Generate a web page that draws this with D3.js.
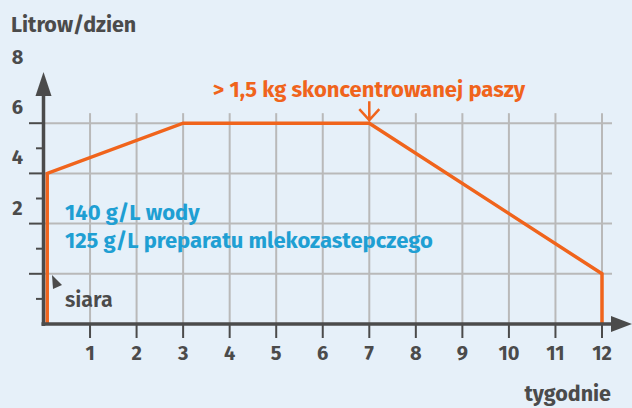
<!DOCTYPE html>
<html><head><meta charset="utf-8">
<script src="https://cdn.jsdelivr.net/npm/d3@7"></script>
<style>
html,body{margin:0;padding:0;background:#e6f0f9;}
svg{display:block;font-family:"Fira Sans","Noto Sans","Open Sans",sans-serif;}
</style></head>
<body><svg id="c" width="632" height="408"></svg>
<script>
// data
const weeks = [0.08, 0.08, 3, 7, 12, 12];
const litres = [-2, 4, 6, 6, 0, -2];
const xTicks = [1,2,3,4,5,6,7,8,9,10,11,12];
const yMajor = [6,4,2,0];
const yMinor = [5,3,1,-1];
const yLabels = ["8","6","4","2"];
const yLabelVals = [8,6,4,2];
const yTitle = "Litrow/dzien";
const xTitle = "tygodnie";
const annotation = "> 1,5 kg skoncentrowanej paszy";
const annotationWeek = 7;
const blueLines = ["140 g/L wody", "125 g/L preparatu mlekozastepczego"];
const siara = "siara";

const svg = d3.select("#c");
const x = d3.scaleLinear().domain([0,12]).range([43.5,602]);
const y = d3.scaleLinear().domain([-2,8]).range([324,73]);
const gridCol="#b9b9b9", axisCol="#4b4b4b", orange="#f0641c", blue="#1f9fd3";

// grid
svg.append("g").selectAll("line").data(xTicks).join("line")
  .attr("x1",d=>x(d)).attr("x2",d=>x(d)).attr("y1",y(6.4)).attr("y2",y(-2))
  .attr("stroke",gridCol).attr("stroke-width",2);
svg.append("g").selectAll("line").data(yMajor).join("line")
  .attr("x1",x(0)).attr("x2",612).attr("y1",d=>y(d)).attr("y2",d=>y(d))
  .attr("stroke",gridCol).attr("stroke-width",2);

// ticks
svg.append("g").selectAll("line").data(yMajor).join("line")
  .attr("x1",29).attr("x2",x(0)).attr("y1",d=>y(d)).attr("y2",d=>y(d))
  .attr("stroke",axisCol).attr("stroke-width",2);
svg.append("g").selectAll("line").data(yMinor).join("line")
  .attr("x1",36).attr("x2",x(0)).attr("y1",d=>y(d)).attr("y2",d=>y(d))
  .attr("stroke",axisCol).attr("stroke-width",2);
svg.append("g").selectAll("line").data(xTicks).join("line")
  .attr("x1",d=>x(d)).attr("x2",d=>x(d)).attr("y1",y(-2)).attr("y2",y(-2)+14)
  .attr("stroke",axisCol).attr("stroke-width",2);

// orange line
svg.append("path").datum(weeks.map((w,i)=>[w,litres[i]]))
  .attr("d",d3.line().x(d=>x(d[0])).y(d=>y(d[1])))
  .attr("fill","none").attr("stroke",orange).attr("stroke-width",3.5).attr("stroke-linejoin","miter");

// axes
svg.append("line").attr("x1",x(0)).attr("x2",x(0)).attr("y1",90).attr("y2",y(-2)+2)
  .attr("stroke",axisCol).attr("stroke-width",3.5);
svg.append("line").attr("x1",x(0)-2).attr("x2",615).attr("y1",y(-2)).attr("y2",y(-2))
  .attr("stroke",axisCol).attr("stroke-width",3.5);
svg.append("path").attr("d",`M${x(0)},72 L${x(0)+8},96 L${x(0)-8},96 Z`).attr("fill",axisCol);
svg.append("path").attr("d",`M632,${y(-2)} L611,${y(-2)-8} L611,${y(-2)+8} Z`).attr("fill",axisCol);

// tick labels
svg.append("g").selectAll("text").data(xTicks).join("text")
  .attr("x",d=>x(d)).attr("y",360).attr("text-anchor","middle")
  .attr("font-size",20).attr("font-weight",700).attr("fill",axisCol).text(d=>d);
svg.append("g").selectAll("text").data(yLabelVals).join("text")
  .attr("x",17.5).attr("y",d=>y(d)-9).attr("text-anchor","middle")
  .attr("font-size",20).attr("font-weight",700).attr("fill",axisCol).text((d,i)=>yLabels[i]);

// titles
svg.append("text").attr("x",11).attr("y",32).attr("font-size",21.5).attr("font-weight",700)
  .attr("fill",axisCol).text(yTitle);
svg.append("text").attr("x",611).attr("y",401).attr("text-anchor","end").attr("font-size",21.5).attr("font-weight",700)
  .attr("fill",axisCol).text(xTitle);

// annotation
svg.append("text").attr("x",x(annotationWeek)+156).attr("y",97).attr("text-anchor","end")
  .attr("font-size",22).attr("font-weight",700).attr("fill",orange).text(annotation);
const ax = x(annotationWeek), ay = y(6)-3;
svg.append("path").attr("d",`M${ax},${ay-19} L${ax},${ay} M${ax-10},${ay-11} L${ax},${ay} L${ax+10},${ay-11}`)
  .attr("fill","none").attr("stroke",orange).attr("stroke-width",2.5);

// blue text
svg.append("g").selectAll("text").data(blueLines).join("text")
  .attr("x",65).attr("y",(d,i)=>220+i*28)
  .attr("font-size",22).attr("font-weight",700).attr("fill",blue).text(d=>d);

// siara
svg.append("text").attr("x",65).attr("y",307).attr("font-size",21.5).attr("font-weight",600)
  .attr("fill",axisCol).text(siara);
svg.append("path").attr("d","M52,275 L62,285 L53,289 Z").attr("fill",axisCol);
</script></body></html>
